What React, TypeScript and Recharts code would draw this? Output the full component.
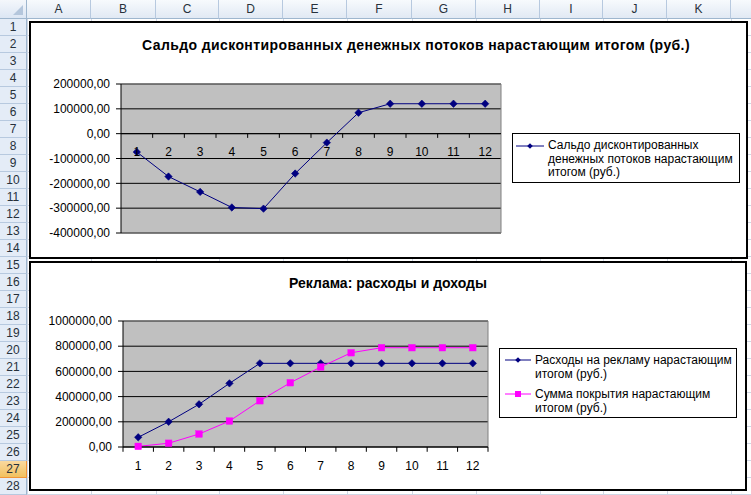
import React from 'react';
import { LineChart, Line, XAxis, YAxis, CartesianGrid, ReferenceLine, ReferenceDot, Legend } from 'recharts';

const FONT = '"Liberation Sans", Arial, sans-serif';

// ---------- data ----------
const periods = [1, 2, 3, 4, 5, 6, 7, 8, 9, 10, 11, 12];
const saldoValues = [-74000, -172700, -234500, -297200, -302000, -160600, -36100, 84300, 120500, 120500, 120500, 120500];
const adSpendValues = [77000, 200000, 339000, 505000, 664000, 664000, 664000, 664000, 664000, 664000, 664000, 664000];
const coverageValues = [5000, 30000, 103000, 206000, 367000, 510000, 635000, 748000, 788000, 788000, 788000, 788000];

const saldoTicks = [-400000, -300000, -200000, -100000, 0, 100000, 200000];
const adTicks = [0, 200000, 400000, 600000, 800000, 1000000];
const categoryBoundaries = [0.5, 1.5, 2.5, 3.5, 4.5, 5.5, 6.5, 7.5, 8.5, 9.5, 10.5, 11.5, 12.5];

const chart1Title = 'Сальдо дисконтированных денежных потоков нарастающим итогом (руб.)';
const chart2Title = 'Реклама: расходы и доходы';
const saldoLegendLines = ['Сальдо дисконтированных', 'денежных потоков нарастающим', 'итогом (руб.)'];
const adSpendLegendLines = ['Расходы на рекламу нарастающим', 'итогом (руб.)'];
const coverageLegendLines = ['Сумма покрытия нарастающим', 'итогом (руб.)'];

const columnLetters = ['A', 'B', 'C', 'D', 'E', 'F', 'G', 'H', 'I', 'J', 'K', ''];
const columnEdges = [27, 91, 156, 219, 283, 347, 412, 476, 540, 603, 667, 731, 795];
const rowNumbers = Array.from({ length: 28 }, (_, i) => i + 1);
const selectedRow = 27;

const saldoData = periods.map((p, i) => ({ period: p, saldo: saldoValues[i] }));
const adData = periods.map((p, i) => ({ period: p, spend: adSpendValues[i], coverage: coverageValues[i] }));

const NAVY = '#000080';
const MAGENTA = '#FF00FF';
const fmt = (v: number) => v.toFixed(2).replace('.', ',');

// ---------- markers ----------
const Diamond = (props: any) => {
  const { cx, cy, index } = props;
  if (cx == null || cy == null) return <g key={`dm-${index}`} />;
  const r = 3.7;
  return (
    <polygon key={`dm-${index}`} points={`${cx},${cy - r} ${cx + r},${cy} ${cx},${cy + r} ${cx - r},${cy}`} fill={NAVY} stroke={NAVY} strokeWidth={0.6} />
  );
};
const Square = (props: any) => {
  const { cx, cy, index } = props;
  if (cx == null || cy == null) return <g key={`sq-${index}`} />;
  const s = 6.6;
  return <rect key={`sq-${index}`} x={cx - s / 2} y={cy - s / 2} width={s} height={s} fill={MAGENTA} stroke={MAGENTA} strokeWidth={0.4} />;
};

const LegendIcon = ({ color, marker, width }: { color: string; marker: 'diamond' | 'square'; width: number }) => (
  <svg width={width} height={10} style={{ display: 'block' }}>
    <line x1={0} y1={5} x2={width} y2={5} stroke={color} strokeWidth={1} />
    {marker === 'diamond' ? (
      <polygon points={`${width / 2},2.2 ${width / 2 + 2.8},5 ${width / 2},7.8 ${width / 2 - 2.8},5`} fill={color} />
    ) : (
      <rect x={width / 2 - 3} y={2} width={6} height={6} fill={color} />
    )}
  </svg>
);

type LegendItem = { lines: string[]; color: string; marker: 'diamond' | 'square' };

const LegendBox = ({ items, w, h, iconLeft, iconWidth, textLeft, firstTop, lineHeight, itemGap }: {
  items: LegendItem[]; w: number; h: number; iconLeft: number; iconWidth: number; textLeft: number; firstTop: number; lineHeight: number; itemGap: number;
}) => {
  let top = firstTop;
  const blocks = items.map((it, k) => {
    const t = top;
    top += it.lines.length * lineHeight + itemGap;
    return (
      <div key={k}>
        <div style={{ position: 'absolute', left: iconLeft, top: t + lineHeight / 2 - 5 }}>
          <LegendIcon color={it.color} marker={it.marker} width={iconWidth} />
        </div>
        {it.lines.map((ln, j) => (
          <div key={j} style={{ position: 'absolute', left: textLeft, top: t + j * lineHeight, height: lineHeight, lineHeight: `${lineHeight}px`, whiteSpace: 'nowrap' }}>
            {ln}
          </div>
        ))}
      </div>
    );
  });
  return (
    <div style={{ position: 'relative', width: w, height: h, border: '1px solid #000', boxSizing: 'border-box', background: '#fff', fontFamily: FONT, fontSize: 12, color: '#000' }}>
      {blocks}
    </div>
  );
};

// ---------- sheet ----------
const Sheet = () => {
  const gridColor = '#D0D7E5';
  const headerH = 19;
  const rowH = 17;
  const els: React.ReactNode[] = [];
  columnEdges.forEach((x, i) =>
    els.push(<div key={`gc${i}`} style={{ position: 'absolute', left: x, top: headerH, width: 1, height: 495 - headerH, background: gridColor }} />)
  );
  rowNumbers.forEach((r) =>
    els.push(<div key={`gr${r}`} style={{ position: 'absolute', left: 27, top: headerH + r * rowH - 1, width: 751 - 27, height: 1, background: gridColor }} />)
  );
  els.push(
    <div key="corner" style={{ position: 'absolute', left: 0, top: 0, width: 27, height: headerH, boxSizing: 'border-box', background: 'linear-gradient(#F4F7FB, #DCE6F4)', borderRight: '1px solid #9EB6CE', borderBottom: '1px solid #9EB6CE' }}>
      <div style={{ position: 'absolute', right: 3, bottom: 3, width: 0, height: 0, borderLeft: '10px solid transparent', borderBottom: '10px solid #B4C6DC' }} />
    </div>
  );
  columnLetters.forEach((c, i) => {
    const x0 = columnEdges[i];
    const x1 = columnEdges[i + 1];
    els.push(
      <div key={`ch${i}`} style={{ position: 'absolute', left: x0, top: 0, width: x1 - x0, height: headerH, boxSizing: 'border-box', background: 'linear-gradient(#F7FAFD, #E1E9F4)', borderRight: '1px solid #B7C9DF', borderBottom: '1px solid #9EB6CE', textAlign: 'center', lineHeight: `${headerH - 1}px`, fontFamily: FONT, fontSize: 12, color: '#27313B' }}>
        {c}
      </div>
    );
  });
  rowNumbers.forEach((r) => {
    const sel = r === selectedRow;
    els.push(
      <div key={`rh${r}`} style={{ position: 'absolute', left: 0, top: headerH + (r - 1) * rowH, width: 27, height: rowH, boxSizing: 'border-box', background: sel ? 'linear-gradient(#F9D99F, #F1C15F)' : '#E4ECF7', borderRight: sel ? '1px solid #F29436' : '1px solid #9EB6CE', borderBottom: sel ? '1px solid #F29436' : '1px solid #B7C9DF', textAlign: 'center', lineHeight: `${rowH - 1}px`, fontFamily: FONT, fontSize: 12, color: '#27313B' }}>
        {r}
      </div>
    );
  });
  return <>{els}</>;
};

// ---------- charts ----------
const tickStyle = { fill: '#000', fontSize: 12, fontFamily: FONT };

const Chart1 = () => (
  <div style={{ position: 'absolute', left: 29, top: 21, width: 719, height: 238 }}>
    <LineChart width={719} height={238} data={saldoData} margin={{ top: 63, right: 247, bottom: 26, left: 12 }}>
      <CartesianGrid horizontal vertical={false} stroke="#000" fill="#C0C0C0" fillOpacity={1} />
      <XAxis dataKey="period" type="number" domain={[0.5, 12.5]} ticks={periods} hide />
      <YAxis type="number" domain={[-400000, 200000]} ticks={saldoTicks} tickFormatter={fmt} width={80} axisLine={{ stroke: '#000' }} tickLine={{ stroke: '#000' }} tickSize={5} tickMargin={6} tick={tickStyle} interval={0} />
      <ReferenceLine y={200000} stroke="#808080" />
      <ReferenceLine y={-400000} stroke="#808080" />
      <ReferenceLine x={12.5} stroke="#808080" />
      <ReferenceLine y={0} stroke="#000" />
      {categoryBoundaries.slice(1, 12).map((b) => (
        <ReferenceLine key={`t${b}`} segment={[{ x: b, y: 0 }, { x: b, y: -17000 }]} stroke="#000" ifOverflow="visible" />
      ))}
      {periods.map((p) => (
        <ReferenceDot key={`l${p}`} x={p} y={0} r={1} fill="none" stroke="none" label={{ value: String(p), position: 'bottom', offset: 13, fill: '#000', fontSize: 12, fontFamily: FONT }} />
      ))}
      <Line type="linear" dataKey="saldo" name={saldoLegendLines.join(' ')} stroke={NAVY} strokeWidth={1} dot={Diamond} activeDot={false} isAnimationActive={false} />
      <Legend layout="vertical" align="center" verticalAlign="middle" width={228} height={50} wrapperStyle={{ left: 483, top: 112, width: 228, height: 50 }}
        content={() => (
          <LegendBox items={[{ lines: saldoLegendLines, color: NAVY, marker: 'diamond' }]} w={228} h={50} iconLeft={3} iconWidth={28} textLeft={35} firstTop={5} lineHeight={13.5} itemGap={0} />
        )} />
    </LineChart>
    <div style={{ position: 'absolute', left: 387 - 320, top: 15, width: 640, textAlign: 'center', fontFamily: FONT, fontWeight: 'bold', fontSize: 14, letterSpacing: '0.4px', lineHeight: '18px', color: '#000', whiteSpace: 'nowrap' }}>
      {chart1Title}
    </div>
  </div>
);

const Chart2 = () => (
  <div style={{ position: 'absolute', left: 29, top: 261, width: 718, height: 230 }}>
    <LineChart width={718} height={230} data={adData} margin={{ top: 60, right: 259, bottom: 14, left: 9 }}>
      <CartesianGrid horizontal vertical={false} stroke="#000" fill="#C0C0C0" fillOpacity={1} />
      <XAxis dataKey="period" type="number" domain={[0.5, 12.5]} ticks={periods} interval={0} height={30} axisLine={{ stroke: '#000' }} tickLine={false} tickSize={0} tickMargin={14} tick={tickStyle} />
      <YAxis type="number" domain={[0, 1000000]} ticks={adTicks} tickFormatter={fmt} width={85} axisLine={{ stroke: '#000' }} tickLine={{ stroke: '#000' }} tickSize={5} tickMargin={6} tick={tickStyle} interval={0} />
      <ReferenceLine y={1000000} stroke="#808080" />
      <ReferenceLine x={12.5} stroke="#808080" />
      {categoryBoundaries.map((b) => (
        <ReferenceLine key={`t${b}`} segment={[{ x: b, y: 0 }, { x: b, y: -38000 }]} stroke="#000" ifOverflow="visible" />
      ))}
      <Line type="linear" dataKey="spend" name={adSpendLegendLines.join(' ')} stroke={NAVY} strokeWidth={1} dot={Diamond} activeDot={false} isAnimationActive={false} />
      <Line type="linear" dataKey="coverage" name={coverageLegendLines.join(' ')} stroke={MAGENTA} strokeWidth={1} dot={Square} activeDot={false} isAnimationActive={false} />
      <Legend layout="vertical" align="center" verticalAlign="middle" width={238} height={70} wrapperStyle={{ left: 470, top: 87, width: 238, height: 70 }}
        content={() => (
          <LegendBox items={[
            { lines: adSpendLegendLines, color: NAVY, marker: 'diamond' },
            { lines: coverageLegendLines, color: MAGENTA, marker: 'square' },
          ]} w={238} h={70} iconLeft={5} iconWidth={26} textLeft={35} firstTop={3.5} lineHeight={14.5} itemGap={5} />
        )} />
    </LineChart>
    <div style={{ position: 'absolute', left: 359 - 200, top: 13, width: 400, textAlign: 'center', fontFamily: FONT, fontWeight: 'bold', fontSize: 14, lineHeight: '18px', color: '#000', whiteSpace: 'nowrap' }}>
      {chart2Title}
    </div>
  </div>
);

export default function App() {
  return (
    <div style={{ position: 'absolute', left: 0, top: 0, width: 751, height: 495, overflow: 'hidden', background: '#fff', fontFamily: FONT }}>
      <Sheet />
      <div style={{ position: 'absolute', left: 29, top: 21, width: 719, height: 238, border: '2px solid #000', boxSizing: 'border-box', background: '#fff' }} />
      <div style={{ position: 'absolute', left: 29, top: 261, width: 718, height: 230, border: '2px solid #000', boxSizing: 'border-box', background: '#fff' }} />
      <Chart1 />
      <Chart2 />
    </div>
  );
}
